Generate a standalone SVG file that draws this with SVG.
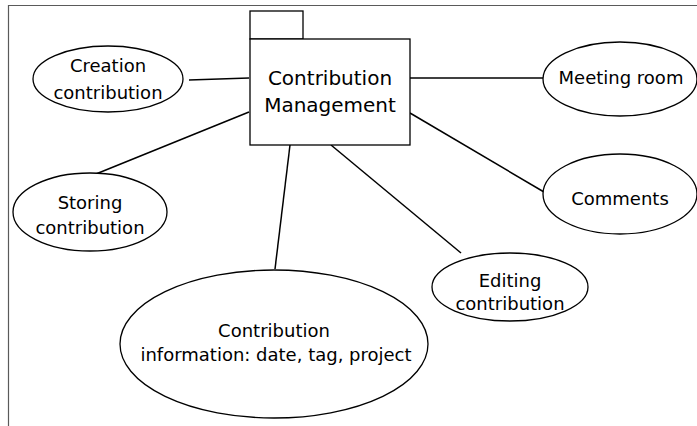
<svg xmlns="http://www.w3.org/2000/svg" width="697" height="426" viewBox="0 0 697 426">
  <style>
    .bg { fill: #ffffff; }
    .frame { fill: none; stroke: #5a5a5a; stroke-width: 1.2; }
    .shape { fill: #ffffff; stroke: #000000; stroke-width: 1.3; }
    .link { stroke: #000000; stroke-width: 1.5; fill: none; }
    .lbl { font-family: "DejaVu Sans", "Liberation Sans", sans-serif; font-size: 18px; fill: #000000; text-anchor: middle; }
    .title { font-size: 20px; }
  </style>
  <rect class="bg" x="0" y="0" width="697" height="426"/>
  <path class="frame" d="M8.5,426 V5.5 H697"/>

  <g id="connectors">
    <line class="link" x1="189" y1="80" x2="249" y2="78"/>
    <line class="link" x1="410" y1="78" x2="543" y2="78"/>
    <line class="link" x1="249" y1="112" x2="91" y2="176"/>
    <line class="link" x1="410" y1="113" x2="544" y2="192"/>
    <line class="link" x1="331" y1="145" x2="461" y2="253"/>
    <line class="link" x1="290" y1="145" x2="275" y2="269"/>
  </g>

  <g id="contribution-management">
    <rect class="shape" x="250" y="11" width="53" height="28"/>
    <rect class="shape" x="250" y="39" width="160" height="106"/>
    <text class="lbl title" x="330" y="85">Contribution</text>
    <text class="lbl title" x="330" y="112">Management</text>
  </g>

  <g id="creation">
    <ellipse class="shape" cx="108" cy="79" rx="75" ry="33"/>
    <text class="lbl" x="108" y="72">Creation</text>
    <text class="lbl" x="108" y="99">contribution</text>
  </g>

  <g id="meeting-room">
    <ellipse class="shape" cx="620" cy="79" rx="77" ry="37"/>
    <text class="lbl" x="621" y="84">Meeting room</text>
  </g>

  <g id="storing">
    <ellipse class="shape" cx="90" cy="212" rx="77" ry="39"/>
    <text class="lbl" x="90" y="209">Storing</text>
    <text class="lbl" x="90" y="234">contribution</text>
  </g>

  <g id="comments">
    <ellipse class="shape" cx="620" cy="194" rx="77" ry="40"/>
    <text class="lbl" x="620" y="205">Comments</text>
  </g>

  <g id="editing">
    <ellipse class="shape" cx="510" cy="287" rx="78" ry="34"/>
    <text class="lbl" x="510" y="287">Editing</text>
    <text class="lbl" x="510" y="310">contribution</text>
  </g>

  <g id="contribution-information">
    <ellipse class="shape" cx="274" cy="344" rx="154" ry="74"/>
    <text class="lbl" x="274" y="337">Contribution</text>
    <text class="lbl" x="276" y="361">information: date, tag, project</text>
  </g>
</svg>
